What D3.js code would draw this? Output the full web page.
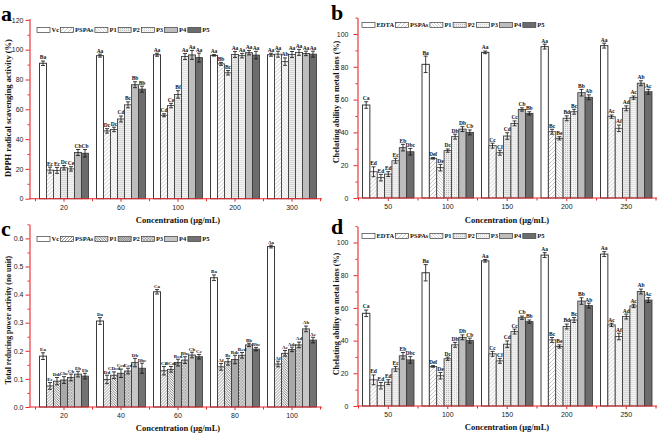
<!DOCTYPE html>
<html><head><meta charset="utf-8">
<script src="https://cdn.jsdelivr.net/npm/d3@7"></script>
<style>body{margin:0;background:#fff} svg{display:block}</style>
</head><body>
<svg id="chart" width="660" height="433"></svg>
<script>
// ---------------- DATA ----------------
const seriesA = ["Vc","PSPAs","P1","P2","P3","P4","P5"];
const groupsA = ["20","60","100","200","300"];
const valuesA = [
  [90.9, 19.2, 19.0, 20.8, 20.0, 31.0, 30.5],
  [96.0, 45.5, 46.5, 53.5, 63.0, 76.5, 73.5],
  [96.6, 56.0, 62.5, 70.0, 95.4, 96.5, 94.7],
  [96.2, 90.5, 84.5, 96.8, 96.0, 98.0, 96.4],
  [96.6, 97.0, 92.0, 96.8, 98.2, 97.5, 97.0]
];
const errorsA = [
  [1.5, 2.0, 2.0, 1.5, 1.5, 2.0, 2.5],
  [1.0, 1.5, 1.5, 2.0, 2.0, 2.0, 2.0],
  [1.0, 1.0, 1.5, 2.5, 2.0, 3.0, 3.0],
  [0.5, 1.0, 1.5, 2.0, 1.5, 1.5, 2.5],
  [1.0, 2.0, 2.5, 2.0, 2.0, 1.5, 2.0]
];
const lettersA = [
  ["Ba","Ec","Ec","Dc","Ce","Cb","Cb"],
  ["Aa","Dc","Dc","Cd","Bc","Bb","Bb"],
  ["Aa","Cd","Ce","Bf","Aa","Aa","Aa"],
  ["Aa","Bb","Bc","Aa","Aa","Aa","Aa"],
  ["Aa","Aa","Ab","Aa","Aa","Aa","Aa"]
];
const yTicksA = [0,20,40,60,80,100,120];

const seriesB = ["EDTA","PSPAs","P1","P2","P3","P4","P5"];
const groupsB = ["50","100","150","200","250"];
const valuesB = [
  [56.7, 16.0, 12.4, 14.6, 22.7, 30.7, 28.2],
  [81.5, 24.2, 18.5, 28.9, 37.4, 42.0, 40.0],
  [88.8, 31.9, 27.6, 37.8, 45.5, 54.0, 51.6],
  [92.3, 40.4, 36.4, 48.6, 52.6, 64.2, 61.4],
  [92.9, 49.6, 42.5, 54.7, 61.2, 70.0, 64.8]
];
const errorsB = [
  [2.0, 3.0, 2.0, 1.5, 1.5, 2.0, 2.0],
  [5.0, 0.5, 2.0, 1.0, 1.5, 1.5, 1.5],
  [0.8, 1.5, 1.5, 2.0, 1.5, 1.0, 1.0],
  [1.5, 1.5, 1.0, 1.5, 1.5, 2.0, 1.5],
  [1.5, 1.0, 2.0, 1.5, 1.0, 1.5, 1.5]
];
const lettersB = [
  ["Ca","Ed","Ed","Ed","Ec","Eb","Dbc"],
  ["Ba","Def","De","Dc","Db","Db","Cb"],
  ["Aa","Cc","Cf","Cd","Cc","Cb","Bb"],
  ["Aa","Bc","Be","Bd","Bc","Bb","Ab"],
  ["Aa","Ac","Af","Ad","Ac","Ab","Ac"]
];
const yTicksB = [0,20,40,60,80,100];

const seriesC = ["Vc","PSPAs","P1","P2","P3","P4","P5"];
const groupsC = ["20","40","60","80","100"];
const valuesC = [
  [0.181, 0.075, 0.092, 0.096, 0.105, 0.117, 0.110],
  [0.306, 0.098, 0.113, 0.120, 0.128, 0.158, 0.138],
  [0.410, 0.129, 0.134, 0.158, 0.167, 0.185, 0.179],
  [0.460, 0.143, 0.161, 0.169, 0.184, 0.221, 0.206],
  [0.571, 0.153, 0.191, 0.205, 0.221, 0.278, 0.238]
];
const errorsC = [
  [0.012, 0.012, 0.013, 0.012, 0.012, 0.010, 0.010],
  [0.012, 0.015, 0.012, 0.015, 0.010, 0.015, 0.018],
  [0.008, 0.015, 0.010, 0.012, 0.012, 0.010, 0.008],
  [0.010, 0.012, 0.012, 0.015, 0.010, 0.006, 0.006],
  [0.005, 0.010, 0.010, 0.008, 0.010, 0.010, 0.010]
];
const lettersC = [
  ["Ea","Ee","Dde","Cbc","Cb","Eb","Eb"],
  ["Da","Dd","CDcd","Ccd","Ccd","Db","Dbc"],
  ["Ca","Ce","BCde","Bcd","Bbc","Cb","Cc"],
  ["Ba","Af","Be","Bde","Bcd","Bb","Bbc"],
  ["Aa","Af","Ae","Ade","Ad","Ab","Ac"]
];
const yTicksC = [0,0.1,0.2,0.3,0.4,0.5,0.6];

// panel d repeats panel b's measurements
const seriesD = seriesB, groupsD = groupsB, valuesD = valuesB, errorsD = errorsB, lettersD = lettersB, yTicksD = yTicksB;

// ---------------- DRAW ----------------
const svg = d3.select("#chart");
const RED = "#e8262a";
const SERIF = "'Liberation Serif','Times New Roman',serif";
const SANS = "'Liberation Sans',Arial,sans-serif";
const defs = svg.append("defs");

function hatch(id, size, bg, d, stroke, sw) {
  const p = defs.append("pattern").attr("id", id).attr("patternUnits","userSpaceOnUse")
    .attr("width", size).attr("height", size);
  p.append("rect").attr("width", size).attr("height", size).attr("fill", bg);
  if (d) p.append("path").attr("d", d).attr("stroke", stroke).attr("stroke-width", sw).attr("fill","none");
}
function fwd(s){ return `M0,${s} L${s},0 M${-s/2},${s/2} L${s/2},${-s/2} M${s/2},${s*1.5} L${s*1.5},${s/2}`; }
function bwd(s){ return `M0,0 L${s},${s} M${-s/2},${s/2} L${s/2},${s*1.5} M${s/2},${-s/2} L${s*1.5},${s/2}`; }
// light style
hatch("L-0", 4, "#fff", null);
hatch("L-1", 4, "#fff", fwd(4), "#a6a6a6", 0.6);
hatch("L-2", 3, "#fff", bwd(3), "#b4b4b4", 0.6);
(function(){ const p = defs.append("pattern").attr("id","L-3").attr("patternUnits","userSpaceOnUse").attr("width",2).attr("height",2);
  p.append("rect").attr("width",2).attr("height",2).attr("fill","#ececec");
  p.append("rect").attr("width",1).attr("height",1).attr("fill","#bdbdbd"); })();
(function(){ const p = defs.append("pattern").attr("id","L-4").attr("patternUnits","userSpaceOnUse").attr("width",2).attr("height",2);
  p.append("rect").attr("width",2).attr("height",2).attr("fill","#f3f3f3");
  p.append("rect").attr("width",1).attr("height",1).attr("fill","#d2d2d2"); })();
hatch("L-5", 4, "#bdbdbd", null);
hatch("L-6", 4, "#6c6c6c", null);
// dense style
hatch("D-0", 4, "#fff", null);
hatch("D-1", 3, "#fff", fwd(3), "#6a6a6a", 0.7);
hatch("D-2", 2.5, "#fff", bwd(2.5), "#555", 0.75);
hatch("D-3", 2, "#bdbdbd", fwd(2), "#7a7a7a", 0.6);
hatch("D-4", 3, "#e2e2e2", fwd(3) + " " + bwd(3), "#7c7c7c", 0.55);
hatch("D-5", 4, "#c6c6c6", null);
hatch("D-6", 4, "#727272", null);

function drawPanel(p) {
  const g = svg.append("g");
  const x0 = d3.scaleBand().domain(p.groups).range(p.xRange).padding(0);
  const x1 = d3.scaleBand().domain(p.series).range([p.barPad, x0.bandwidth() - p.barPad]).padding(0);
  const y = d3.scaleLinear().domain(p.yDomain).range(p.yRange);

  p.groups.forEach((grp, gi) => {
    const gg = g.append("g").attr("transform", `translate(${x0(grp)},0)`);
    const rows = p.series.map((s, si) => ({s, si, v: p.values[gi][si], e: p.errors[gi][si], l: p.letters[gi][si]}));
    gg.selectAll("rect.bar").data(rows).join("rect").attr("class","bar")
      .attr("x", d => x1(d.s)).attr("width", x1.bandwidth())
      .attr("y", d => y(d.v)).attr("height", d => y(0) - y(d.v))
      .attr("fill", d => `url(#${p.style}-${d.si})`)
      .attr("stroke", "#3a3a3a").attr("stroke-width", d => d.si === 0 ? 1 : 0.85);
    const cx = d => x1(d.s) + x1.bandwidth()/2;
    const eb = gg.selectAll("g.err").data(rows).join("g").attr("class","err")
      .attr("stroke", "#111").attr("stroke-width", 0.8);
    eb.append("line").attr("x1", cx).attr("x2", cx).attr("y1", d => y(d.v - d.e)).attr("y2", d => y(d.v + d.e));
    eb.append("line").attr("x1", d => cx(d) - 2).attr("x2", d => cx(d) + 2).attr("y1", d => y(d.v + d.e)).attr("y2", d => y(d.v + d.e));
    eb.append("line").attr("x1", d => cx(d) - 2).attr("x2", d => cx(d) + 2).attr("y1", d => y(d.v - d.e)).attr("y2", d => y(d.v - d.e));
    gg.selectAll("text.lab").data(rows).join("text").attr("class","lab")
      .attr("x", cx).attr("y", d => y(d.v + d.e) - 1.6)
      .attr("text-anchor","middle").attr("font-family", SERIF).attr("font-weight","bold")
      .attr("font-size", p.labSize).attr("fill","#111").text(d => d.l);
  });

  // y axis
  const ya = g.append("g").attr("transform", `translate(${p.yAxisX},0)`)
    .call(d3.axisLeft(y).tickValues(p.yTicks).tickSize(4).tickSizeOuter(0).tickPadding(p.yPad).tickFormat(p.fmt));
  ya.select(".domain").attr("stroke", RED).attr("stroke-width", 1.1);
  ya.selectAll(".tick line").attr("stroke", RED);
  ya.selectAll(".tick text").attr("font-family", SANS).attr("font-size", 7).attr("fill", "#222");
  const ym = g.append("g").attr("transform", `translate(${p.yAxisX},0)`)
    .call(d3.axisLeft(y).tickValues(p.yMinor).tickSize(2).tickFormat(""));
  ym.select(".domain").remove();
  ym.selectAll(".tick line").attr("stroke", RED);

  // x axis
  const xa = g.append("g").attr("transform", `translate(0,${y(0)})`)
    .call(d3.axisBottom(x0).tickSize(3).tickSizeOuter(0).tickPadding(3));
  xa.select(".domain").remove();
  xa.selectAll(".tick line").attr("stroke", RED);
  xa.selectAll(".tick text").attr("font-family", SANS).attr("font-size", 7).attr("fill", "#222");
  xa.append("line").attr("x1", p.yAxisX).attr("x2", p.xAxisEnd).attr("y1", 0).attr("y2", 0)
    .attr("stroke", RED).attr("stroke-width", 1.1);
  const bounds = p.groups.map(gr => x0(gr)).concat([p.xRange[1]]);
  xa.selectAll("line.minor").data(bounds).join("line").attr("class","minor")
    .attr("x1", d => d).attr("x2", d => d).attr("y1", 0).attr("y2", 2.5).attr("stroke", RED);

  // titles
  g.append("text").attr("transform", `translate(${p.yTitle[0]},${p.yTitle[1]}) rotate(-90)`)
    .attr("text-anchor","middle").attr("font-family", SERIF).attr("font-weight","bold")
    .attr("font-size", p.yTitleSize).attr("fill","#111").text(p.yLabel);
  g.append("text").attr("x", p.xTitle[0]).attr("y", p.xTitle[1])
    .attr("text-anchor","middle").attr("font-family", SERIF).attr("font-weight","bold")
    .attr("font-size", 8.5).attr("fill","#111").text("Concentration (μg/mL)");
  g.append("text").attr("x", p.letterPos[0]).attr("y", p.letterPos[1])
    .attr("font-family", SERIF).attr("font-weight","bold").attr("font-size", 22).attr("fill","#000").text(p.letter);

  // legend
  let lx = p.legend[0];
  const ly = p.legend[1];
  p.series.forEach((s, si) => {
    g.append("rect").attr("x", lx).attr("y", ly - 2.5).attr("width", 13).attr("height", 5)
      .attr("fill", `url(#${p.style}-${si})`).attr("stroke", "#3c3c3c").attr("stroke-width", 0.7);
    const t = g.append("text").attr("x", lx + 14.5).attr("y", ly + 2.3)
      .attr("font-family", SERIF).attr("font-weight","bold").attr("font-size", 6.5).attr("fill","#111").text(s);
    lx = lx + 14.5 + t.node().getComputedTextLength() + 1.5;
  });
}

drawPanel({groups: groupsA, series: seriesA, values: valuesA, errors: errorsA, letters: lettersA,
  style: "L", xRange: [35.5, 320.5], barPad: 4, yAxisX: 29.5, xAxisEnd: 322, labSize: 5.5,
  yDomain: [0, 121], yRange: [198.7, 198.7 - 121*1.49], yTicks: yTicksA, yMinor: d3.range(10, 121, 20),
  yPad: 2, fmt: d3.format("d"), yTitle: [11, 108], yTitleSize: 8.5, yLabel: "DPPH radical scavenging activity (%)",
  xTitle: [178, 223], letterPos: [1, 21], letter: "a", legend: [37, 30]});

drawPanel({groups: groupsB, series: seriesB, values: valuesB, errors: errorsB, letters: lettersB,
  style: "L", xRange: [358.5, 656], barPad: 4, yAxisX: 357.5, xAxisEnd: 657, labSize: 5.5,
  yDomain: [0, 110], yRange: [198, 198 - 110*1.64], yTicks: yTicksB, yMinor: d3.range(10, 111, 20),
  yPad: 5, fmt: d3.format("d"), yTitle: [339, 102], yTitleSize: 8.2, yLabel: "Chelating ability on metal ions (%)",
  xTitle: [507, 223], letterPos: [331, 20], letter: "b", legend: [362, 25]});

drawPanel({groups: groupsC, series: seriesC, values: valuesC, errors: errorsC, letters: lettersC,
  style: "D", xRange: [35.5, 320.5], barPad: 4, yAxisX: 29.5, xAxisEnd: 322, labSize: 5,
  yDomain: [0, 0.65], yRange: [407, 407 - 0.65*281], yTicks: yTicksC, yMinor: d3.range(0.05, 0.66, 0.1),
  yPad: 2, fmt: d3.format(".1f"), yTitle: [11, 320], yTitleSize: 7.8, yLabel: "Total reducing power activity (no unit)",
  xTitle: [178, 431], letterPos: [1, 236], letter: "c", legend: [37, 239]});

drawPanel({groups: groupsD, series: seriesD, values: valuesD, errors: errorsD, letters: lettersD,
  style: "L", xRange: [358.5, 656], barPad: 4, yAxisX: 357.5, xAxisEnd: 657, labSize: 5.5,
  yDomain: [0, 110], yRange: [406, 406 - 110*1.635], yTicks: yTicksD, yMinor: d3.range(10, 111, 20),
  yPad: 5, fmt: d3.format("d"), yTitle: [339, 314], yTitleSize: 8.2, yLabel: "Chelating ability on metal ions (%)",
  xTitle: [507, 430], letterPos: [331, 234], letter: "d", legend: [362, 236]});
</script></body></html>
